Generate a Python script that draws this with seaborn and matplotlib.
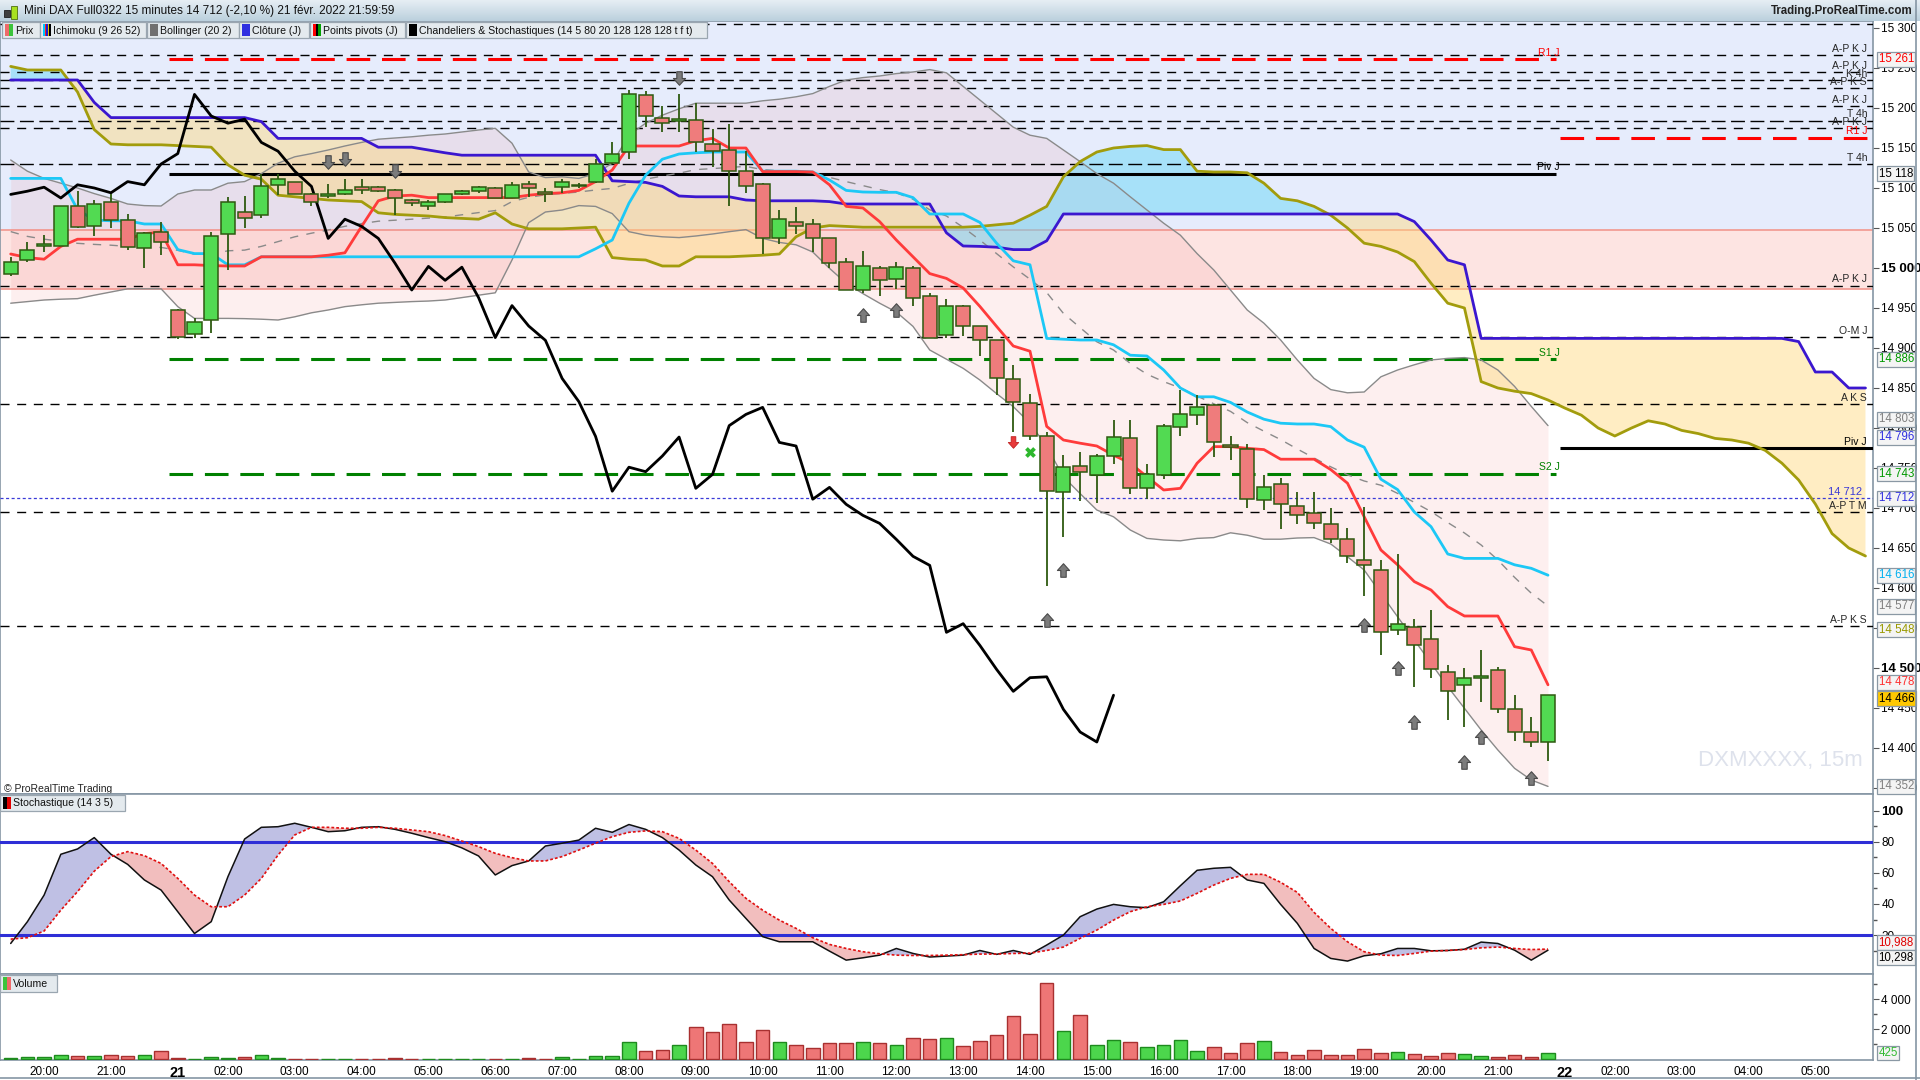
"""
Mini DAX 15 minutes chart (ProRealTime style) with Ichimoku, Bollinger,
pivots, stochastic and volume panels.
"""

import numpy as np
import pandas as pd
import matplotlib
matplotlib.use("Agg")
import matplotlib.pyplot as plt
import matplotlib.transforms as mtransforms
from matplotlib.path import Path
from matplotlib.patches import Rectangle
from matplotlib.lines import Line2D
from matplotlib.colors import LinearSegmentedColormap
import seaborn as sns

# ---------------------------------------------------------------- data
opens = [14992, 15010, 15027, 15028, 15077, 15053, 15082, 15060, 15025, 15045,
         14948, 14918, 14935, 15042, 15070, 15066, 15104, 15107, 15093, 15090,
         15092, 15101, 15101, 15098, 15085, 15077, 15083, 15093, 15096, 15100,
         15088, 15105, 15095, 15101, 15102, 15107, 15131, 15145, 15216, 15188,
         15184, 15185, 15155, 15148, 15121, 15105, 15037, 15057, 15055, 15037,
         15007, 14972.5, 14999.6, 14986, 14999.6, 14964.6, 14915.8, 14953, 14927, 14909.6,
         14861, 14831, 14789.6, 14719.6, 14752, 14740.8, 14764.6, 14787, 14725.4, 14741,
         14800.8, 14816.7, 14828.7, 14778.3, 14773.7, 14710, 14729.6, 14702, 14694, 14679.6,
         14661.7, 14634.6, 14622, 14547, 14551.7, 14535.8, 14494.6, 14478.7, 14488.5, 14497,
         14449, 14419.6, 14408]
highs = [15014, 15032, 15041, 15078, 15096, 15085, 15092, 15067, 15045, 15058,
         14949, 14938, 15045, 15089, 15090, 15117, 15117, 15108, 15094, 15105,
         15111, 15111, 15102, 15099, 15086, 15085, 15093, 15098, 15102, 15101,
         15107, 15109, 15100, 15111, 15106, 15136, 15157, 15223, 15221, 15203,
         15217, 15206, 15174, 15180, 15146, 15106, 15072, 15076, 15061, 15038,
         15013, 15021, 15002.5, 15007.5, 15002.5, 14969, 14961, 14954, 14928, 14910,
         14879, 14842.5, 14794.6, 14766, 14769.6, 14767.5, 14810, 14810, 14755, 14805,
         14848, 14841, 14829.6, 14790, 14780, 14741, 14737, 14719.6, 14719.6, 14699.6,
         14675.4, 14701, 14634.6, 14642.5, 14561, 14572.5, 14503.7, 14500, 14522.5, 14501,
         14466, 14439, 14466]
lows = [14990, 15008, 15020, 15027, 15050, 15040, 15050, 15022, 15000, 15016,
        14911, 14913, 14919, 14998, 15050, 15063, 15091, 15092, 15077, 15088,
        15091, 15093, 15095, 15066, 15077, 15072, 15081, 15091, 15094, 15087,
        15088, 15089, 15082, 15094, 15100, 15106, 15130, 15136, 15176, 15170,
        15170, 15145, 15126, 15077, 15094, 15017, 15030, 15043, 15020, 15000,
        14972, 14969, 14965, 14974, 14953, 14912, 14913, 14915, 14890, 14841,
        14795, 14785, 14602, 14664, 14709, 14705.8, 14755.4, 14717, 14710.8, 14735.8,
        14790.4, 14803.7, 14763.7, 14760, 14700.4, 14698, 14674, 14680.4, 14674, 14655.8,
        14631.7, 14590.4, 14516.7, 14541.2, 14475.8, 14488, 14435.4, 14426.7, 14458, 14444,
        14409, 14401.7, 14384]
closes = [15007, 15023, 15030, 15077, 15051, 15080, 15060, 15026, 15044, 15033,
          14914, 14933, 15040, 15082, 15062, 15102, 15111, 15093, 15083, 15092,
          15098, 15097, 15096, 15088, 15081, 15082, 15092, 15096, 15101, 15087.5,
          15104, 15100, 15094, 15108, 15104, 15130, 15143, 15217, 15190, 15181,
          15186, 15157, 15146, 15121, 15102, 15037, 15061, 15052, 15037, 15006,
          14972.5, 15002, 14984.6, 15001, 14963, 14913, 14953, 14927.5, 14909.6, 14862,
          14833, 14789.6, 14721, 14751, 14745.4, 14765, 14788.7, 14724.6, 14742, 14803,
          14817, 14825.8, 14782, 14777.5, 14711, 14725.8, 14704.6, 14690.8, 14680.8, 14660.8,
          14639.6, 14628.3, 14544.6, 14555.4, 14528.3, 14498.3, 14470.8, 14487.9, 14489, 14448.3,
          14420, 14407.5, 14466]
volumes = [90, 157, 157, 292, 225, 225, 292, 225, 292, 562,
           90, 0, 157, 90, 157, 292, 90, 22, 22, 22,
           22, 22, 0, 90, 22, 22, 22, 0, 0, 22,
           22, 90, 22, 157, 0, 225, 225, 1168, 562, 629,
           966, 2180, 1843, 2382, 1168, 1977, 1168, 966, 764, 1101,
           1101, 1168, 1101, 966, 1438, 1371, 1438, 899, 1236, 1640,
           2921, 1708, 5078, 1910, 2989, 966, 1303, 1168, 831, 966,
           1303, 562, 831, 427, 1101, 1236, 494, 292, 629, 292,
           292, 697, 427, 494, 360, 225, 427, 360, 225, 157,
           292, 157, 425]

tenkan = [15017.5, 15013, 15011, 15027, 15036, 15036, 15036, 15036, 15043, 15045,
          15004, 15004, 15003, 15002.5, 15002.5, 15014, 15014, 15014, 15014, 15016,
          15019, 15052, 15084, 15090, 15091, 15088, 15088, 15088, 15088, 15088,
          15088, 15091, 15093, 15094, 15097, 15108, 15122.5, 15152.5, 15152.5, 15152.5,
          15152.5, 15159, 15162, 15150, 15150, 15120.5, 15120.5, 15120.5, 15120, 15104,
          15077, 15075, 15058, 15035, 15014, 14993, 14987, 14975, 14952, 14927,
          14902.5, 14896, 14802, 14785, 14781, 14777.5, 14766, 14756, 14739, 14722.5,
          14724.6, 14756, 14776.7, 14776.7, 14774.6, 14773, 14761, 14761, 14761, 14748,
          14731, 14689, 14647.5, 14629, 14608, 14597.5, 14576.7, 14565, 14565, 14565,
          14526.7, 14522.5, 14479]
kijun = [15112, 15112, 15112, 15112, 15073, 15060, 15059, 15059, 15055, 15055,
         15023, 15018, 15018, 15004, 15004, 15014, 15014, 15014, 15014, 15014,
         15014, 15014, 15014, 15014, 15014, 15014, 15014, 15014, 15014, 15014,
         15014, 15014, 15014, 15014, 15014, 15024, 15035, 15081, 15116, 15136,
         15142.5, 15144, 15145, 15145, 15145, 15121, 15121, 15121, 15120, 15110,
         15097, 15095, 15094.6, 15094.6, 15088, 15067.5, 15067.5, 15067.5, 15057, 15031,
         15009, 15004, 14912, 14911, 14910, 14910, 14904, 14891, 14890, 14872.5,
         14850, 14839, 14839, 14832, 14820, 14811, 14806, 14805, 14805, 14801.7,
         14785, 14776, 14736, 14723, 14695, 14676.7, 14642.5, 14637, 14637, 14637,
         14629, 14624.6, 14616]
senkou_a = [15252, 15247.5, 15247.5, 15247.5, 15220, 15173, 15155, 15154, 15154, 15154,
            15153, 15152, 15151, 15129, 15116, 15111, 15091, 15089, 15087, 15085,
            15084, 15083, 15069, 15067, 15066, 15065, 15063, 15062, 15061, 15069,
            15055, 15049, 15049, 15049, 15050, 15051, 15013, 15011, 15010, 15002.5,
            15002.5, 15014, 15014, 15014, 15015, 15016, 15017.5, 15039, 15050, 15053,
            15052, 15051, 15051, 15051, 15051, 15051, 15051, 15051, 15052, 15054,
            15056, 15066, 15077, 15114, 15133, 15145, 15150, 15152, 15153, 15148,
            15148, 15121, 15120, 15120, 15119, 15106, 15087, 15084, 15077, 15066,
            15050, 15031, 15027, 15020, 15008, 14981, 14956, 14950, 14858, 14850,
            14846, 14843, 14835, 14825, 14816, 14800, 14790, 14800, 14809, 14805,
            14797, 14793, 14787, 14785, 14781, 14772, 14756, 14735, 14705, 14668,
            14650, 14640]
senkou_b = [15235, 15235, 15235, 15235, 15235, 15207, 15188, 15188, 15188, 15188,
            15188, 15188, 15188, 15188, 15188, 15183, 15162, 15162, 15162, 15162,
            15162, 15162, 15151, 15151, 15151, 15147.5, 15144, 15141, 15141, 15141,
            15141, 15141, 15141, 15141, 15141, 15141, 15109, 15108, 15107, 15102,
            15090, 15089, 15089, 15089, 15085, 15084, 15084, 15084, 15084, 15083,
            15080, 15080, 15080, 15080, 15080, 15080, 15044, 15027.5, 15027, 15026,
            15023, 15023, 15034, 15067.5, 15067.5, 15067.5, 15067.5, 15067.5, 15067.5, 15067.5,
            15067.5, 15067.5, 15067.5, 15067.5, 15067.5, 15067.5, 15067.5, 15067.5, 15067.5, 15067.5,
            15067.5, 15067.5, 15067.5, 15067.5, 15058, 15035, 15010, 15004, 14912, 14912,
            14912, 14912, 14912, 14912, 14912, 14912, 14912, 14912, 14912, 14912,
            14912, 14912, 14912, 14912, 14912, 14912, 14912, 14908, 14870, 14870,
            14850, 14850]
bb_upper = [15135, 15121, 15112, 15106, 15100, 15093, 15087, 15080, 15078, 15077.5,
            15092.5, 15097.5, 15097.5, 15106, 15108, 15118, 15131, 15139, 15143, 15147.5,
            15152.5, 15157, 15161, 15162.5, 15164, 15166, 15167.5, 15170, 15172.5, 15174.6,
            15156, 15120, 15113, 15114, 15112, 15118, 15131, 15166, 15181, 15191,
            15199, 15206, 15206, 15206, 15206, 15209, 15211, 15214, 15218, 15227,
            15235, 15238, 15240, 15243, 15245, 15248, 15244, 15227, 15210, 15193,
            15176, 15166, 15162, 15147.5, 15133, 15118, 15106, 15089, 15072.5, 15056,
            15041, 15018, 14997.5, 14972.5, 14947.5, 14931, 14910, 14885, 14862, 14848,
            14844, 14845, 14864, 14872.5, 14879, 14885, 14887, 14888, 14885, 14872.5,
            14852, 14827, 14803]
bb_lower = [14956, 14958, 14960, 14961, 14961.7, 14966, 14970, 14974, 14974, 14974,
            14951.7, 14937, 14937, 14937, 14936.7, 14936, 14935, 14939, 14944, 14947.5,
            14951.7, 14954, 14956, 14957, 14958, 14958.7, 14960, 14963, 14966, 14969,
            15010, 15056.7, 15070, 15072.5, 15078, 15077, 15068, 15045.4, 15041, 15039,
            15038, 15040, 15042.5, 15045.4, 15048, 15037, 15032, 15029, 15020, 14999.6,
            14981, 14968, 14956, 14945, 14927, 14897.5, 14886, 14874.6, 14860, 14843,
            14826.7, 14806, 14776.7, 14739, 14718, 14697.5, 14689, 14672.5, 14662, 14660,
            14659, 14662, 14663, 14669, 14666, 14661, 14661, 14662.5, 14663, 14655,
            14639, 14622.5, 14593, 14564, 14535, 14506, 14476.7, 14449.6, 14422.5, 14397.5,
            14374.6, 14360, 14352]

stoch_k = [14.6, 28.6, 45.7, 71.9, 75.3, 82.6, 71.9, 65.4, 55.4, 48.9,
           35, 21, 28.6, 57.5, 81.7, 89.2, 89.6, 91.8, 89.2, 86.4,
           87, 89.2, 89.6, 87.9, 85.4, 82.6, 80, 76, 70.8, 58.6,
           64.6, 67.6, 77.2, 79, 81, 88.6, 86, 91, 87.9, 82.6,
           74.6, 65, 57.5, 42.5, 30.7, 19, 15.7, 15.7, 15.7, 9.7,
           3.9, 5.4, 7.1, 11.4, 8.2, 5.9, 6.5, 7.1, 10.1, 7.6,
           10.1, 7.6, 13.6, 20, 31.8, 36.7, 39.7, 38.2, 37.6, 41.4,
           51.7, 61.6, 62.9, 63.5, 55.4, 53.2, 39.7, 27.5, 11.4, 5,
           3.3, 6.7, 8, 11.4, 11.4, 9.9, 10.1, 10.9, 15.5, 14.6,
           10.3, 3.9, 10.298]
stoch_d = [17.4, 18.3, 22.6, 36, 47.9, 61, 70.4, 73.6, 71, 66,
           56.4, 45.7, 38.2, 38.2, 45.7, 56.4, 71.4, 84.3, 89.2, 89.2,
           88.6, 88.6, 89.2, 88.6, 87.5, 86.4, 83.9, 80.4, 76.8, 72.5,
           69.7, 67.6, 67.6, 70.4, 74.6, 79, 83.2, 86, 86.9, 86.4,
           82.1, 74.6, 66, 54.3, 43.6, 36, 29.6, 24.3, 18.3, 14,
           11.4, 9.3, 8, 7.1, 6.9, 6.9, 7.1, 7.4, 7.8, 7.8,
           8.2, 8.4, 10.1, 12.3, 17.9, 23.2, 29.6, 35, 38.2, 39.7,
           41.9, 46.8, 52.1, 56.4, 59, 59, 53.9, 47.4, 34.6, 24.3,
           15.7, 9.3, 7.1, 6.9, 8.2, 9.7, 10.1, 10.7, 11.8, 12.3,
           11.4, 10.7, 10.988]

# horizontal levels drawn across the whole chart
level_prices = [15304.6, 15266, 15245, 15235, 15224.6, 15202.5, 15184, 15175,
                15129.6, 14978, 14913.5, 14830, 14694.6, 14552.5]
level_labels = ["", "A-P K J", "A-P K J", "K 4h", "A-P K S", "A-P K J", "T 4h",
                "A-P K J", "T 4h", "A-P K J", "O-M J", "A K S", "A-P T M", "A-P K S"]

# daily pivots: session of the 21st and the following one
pivot_today = {"R1 J": 15261, "Piv J": 15118, "S1 J": 14886, "S2 J": 14743}
pivot_next = {"R1 J": 15163, "Piv J": 14775}
prev_close = 14712
zone_blue_low = 15048
zone_pink = (14974, 15048)

# arrow signals (bar index, price of arrow centre)
arrows_down = [(19, 15133), (20, 15136), (23, 15121), (40, 15238)]
arrows_up = [(51, 14941), (53, 14947), (62, 14560), (63, 14622), (81, 14554),
             (83, 14500), (84, 14433), (87, 14383), (88, 14414), (91, 14362)]

axis_box_values = [15261, 15118, 14886, 14803, 14796, 14743, 14712, 14616,
                   14577, 14548, 14478, 14466, 14352]
axis_box_colors = ["#FF0000", "#000000", "#009900", "#808080", "#3030E0",
                   "#009900", "#3030E0", "#00B0F0", "#808080", "#9A9A00",
                   "#FF3030", "#000000", "#808080"]
axis_box_shift = [0, 0, 0, 4.5, -4.5, 0, 0, 0, 0, 0, 2.5, -2.5, 0]

price_ticks = [14350, 14400, 14450, 14500, 14550, 14600, 14650, 14700, 14750,
               14800, 14850, 14900, 14950, 15000, 15050, 15100, 15150, 15200,
               15250, 15300]
stoch_ticks = [20, 40, 60, 80, 100]
volume_ticks = [2000, 4000]

tick_bars = [2, 6, 10, 13, 17, 21, 25, 29, 33, 37, 41, 45, 49, 53, 57, 61, 65,
             69, 73, 77, 81, 85, 89, 93, 96, 100, 104, 108]
tick_labels = ["20:00", "21:00", "21", "02:00", "03:00", "04:00", "05:00",
               "06:00", "07:00", "08:00", "09:00", "10:00", "11:00", "12:00",
               "13:00", "14:00", "15:00", "16:00", "17:00", "18:00", "19:00",
               "20:00", "21:00", "22", "02:00", "03:00", "04:00", "05:00"]

df = pd.DataFrame({"open": opens, "high": highs, "low": lows, "close": closes,
                   "volume": volumes, "tenkan": tenkan, "kijun": kijun,
                   "bb_up": bb_upper, "bb_lo": bb_lower,
                   "k": stoch_k, "d": stoch_d})
df["bar"] = np.arange(len(df))
df["bb_mid"] = (df.bb_up + df.bb_lo) / 2
cloud = pd.DataFrame({"a": senkou_a, "b": senkou_b})
cloud["bar"] = np.arange(len(cloud))

# ---------------------------------------------------------------- style
sns.set_theme(style="white")
plt.rcParams['font.family'] = ['Liberation Sans', 'DejaVu Sans']
plt.rcParams['lines.scale_dashes'] = False

GREEN = "#52DA52"
RED = "#EF7C7C"
EDGE = "#2E5A10"
SPINE = "#8596A4"

W, H = 1920, 1080
fig = plt.figure(figsize=(19.2, 10.8), dpi=100, facecolor="white")


def fx(px):
    return px / W


def fy(py):
    return 1 - py / H


def thousands(v):
    v = int(round(v))
    return f"{v // 1000} {v % 1000:03d}" if v >= 1000 else str(v)


BOX = dict(boxstyle="square,pad=0.12", fc="#F4F4F4", ec="#8A98A4", lw=0.9)

RIGHT = 1873
ax = fig.add_axes([0, fy(794), fx(RIGHT), (794 - 21) / H])
ax_st = fig.add_axes([0, fy(974), fx(RIGHT), (974 - 794) / H])
ax_vol = fig.add_axes([0, fy(1060), fx(RIGHT), (1060 - 974) / H])

XLIM = (-0.64, 111.45)
for a in (ax, ax_st, ax_vol):
    a.set_xlim(*XLIM)
    a.set_facecolor("white")
    for s in a.spines.values():
        s.set_color(SPINE)
        s.set_linewidth(1.2)
    a.yaxis.tick_right()
    a.tick_params(axis="y", direction="out", length=4, width=0.8,
                  colors="#555555", labelcolor="black", labelsize=8.5, pad=2)
    a.grid(False)
ax.tick_params(axis="x", bottom=False, labelbottom=False)
ax_st.tick_params(axis="x", bottom=False, labelbottom=False)

# ---------------------------------------------------------------- price panel
ax.set_ylim(14342.5, 15308.75)
ax.axhspan(zone_blue_low, 15400, color="#E6ECFC", zorder=0, lw=0)
ax.axhspan(*zone_pink, color="#FDE4E2", zorder=0, lw=0)
for lv in zone_pink:
    ax.axhline(lv, color="#F29E96", lw=1.3, zorder=1)

bars = df.bar.values
ax.fill_between(bars, df.bb_lo, df.bb_up, color="#F08080", alpha=0.12,
                lw=0, zorder=1)
ax.fill_between(cloud.bar, cloud.a, cloud.b, where=cloud.a >= cloud.b,
                interpolate=True, color="#6AD8F7", alpha=0.5, lw=0, zorder=2)
ax.fill_between(cloud.bar, cloud.a, cloud.b, where=cloud.a < cloud.b,
                interpolate=True, color="#FFD97A", alpha=0.45, lw=0, zorder=2)

# levels
lab_tr = mtransforms.blended_transform_factory(ax.transAxes, ax.transData)
for price, label in zip(level_prices, level_labels):
    dash = (10, 4) if "4h" in label else (6.5, 5.5)
    ax.axhline(price, color="black", lw=1.0, dashes=dash, zorder=3)
    if label:
        ax.annotate(label, (0.9968, price), xycoords=lab_tr, xytext=(0, 1),
                    textcoords="offset points", ha="right", va="bottom",
                    fontsize=7.5, zorder=10)

piv_style = {"R1 J": ("#FF0000", (17, 8.5)), "Piv J": ("black", None),
             "S1 J": ("#008000", (17, 8.5)), "S2 J": ("#008000", (17, 8.5))}
for name, price in pivot_today.items():
    col, dash = piv_style[name]
    ls = (0, dash) if dash else "solid"
    ax.hlines(price, 9.5, 92.5, color=col, lw=2.2, zorder=3, linestyles=[ls])
    ax.annotate(name, (92.7, price), xytext=(0, 1), textcoords="offset points",
                ha="right", va="bottom", fontsize=7.5, color=col, zorder=10)
for name, price in pivot_next.items():
    col, dash = piv_style[name]
    ls = (0, dash) if dash else "solid"
    ax.hlines(price, 92.7, XLIM[1], color=col, lw=2.2, zorder=3, linestyles=[ls])
    ax.annotate(name, (0.9968, price), xycoords=lab_tr, xytext=(0, 1),
                textcoords="offset points", ha="right", va="bottom",
                fontsize=7.5, color=col, zorder=10)
ax.axhline(prev_close, color="#3A3AD8", lw=0.9, dashes=(2.2, 1.8), zorder=3)
ax.annotate(thousands(prev_close), (0.9943, prev_close), xycoords=lab_tr,
            xytext=(0, 1), textcoords="offset points", ha="right", va="bottom",
            fontsize=8, color="#3A3AD8", zorder=10)

# indicator lines
sns.lineplot(x=df.bar, y=df.bb_up, ax=ax, color="#8A8A8A", lw=1.0, zorder=4)
sns.lineplot(x=df.bar, y=df.bb_lo, ax=ax, color="#8A8A8A", lw=1.0, zorder=4)
sns.lineplot(x=df.bar, y=df.bb_mid, ax=ax, color="#8A8A8A", lw=1.0, zorder=4)
ax.lines[-1].set_dashes((6, 6))
sns.lineplot(x=cloud.bar, y=cloud.a, ax=ax, color="#A29C0C", lw=2.0, zorder=4)
sns.lineplot(x=cloud.bar, y=cloud.b, ax=ax, color="#3B17CF", lw=2.0, zorder=4)
sns.lineplot(x=df.bar, y=df.kijun, ax=ax, color="#1CC8F6", lw=2.0, zorder=5)
sns.lineplot(x=df.bar, y=df.tenkan, ax=ax, color="#FF3B3B", lw=2.0, zorder=5)
sns.lineplot(x=df.bar.values[:-26], y=df.close.values[26:], ax=ax,
             color="black", lw=2.0, zorder=5)

# candles
o, h, l, c = df.open.values, df.high.values, df.low.values, df.close.values
up = c >= o
body = np.abs(c - o)
thin = body < 2
ax.vlines(bars, l, h, color=EDGE, lw=1.3, zorder=6)
ax.bar(bars, np.where(thin, 2.0, body), bottom=np.minimum(o, c) - np.where(thin, 1, 0),
       width=0.84, color=np.where(up, GREEN, RED), edgecolor=EDGE,
       linewidth=1.1, zorder=7)

# signal arrows
arrow_up = Path([(-0.2, -0.5), (0.2, -0.5), (0.2, 0.0), (0.45, 0.0), (0, 0.5),
                 (-0.45, 0.0), (-0.2, 0.0), (-0.2, -0.5)],
                [Path.MOVETO] + [Path.LINETO] * 6 + [Path.CLOSEPOLY])
arrow_down = Path(arrow_up.vertices * np.array([1, -1]), arrow_up.codes)
ax.scatter([b for b, _ in arrows_up], [p for _, p in arrows_up], marker=arrow_up,
           s=95, c="#7C7C7C", edgecolors="#4A4A4A", linewidths=0.8, zorder=9)
ax.scatter([b for b, _ in arrows_down], [p for _, p in arrows_down],
           marker=arrow_down, s=95, c="#7C7C7C", edgecolors="#4A4A4A",
           linewidths=0.8, zorder=9)
ax.scatter([60], [14783], marker=arrow_down, s=70, c="#E83A3A",
           edgecolors="#C02020", linewidths=0.6, zorder=9)
ax.scatter([61], [14770], marker="X", s=60, c="#2DB82D", linewidths=0, zorder=9)

# price ticks
ax.set_yticks(price_ticks)
ax.set_yticklabels([thousands(v) for v in price_ticks])
for t, v in zip(ax.get_yticklabels(), price_ticks):
    if v % 500 == 0:
        t.set_fontweight("bold")
        t.set_fontsize(9.5)

# boxed values on the price axis
box_tr = mtransforms.blended_transform_factory(ax.transAxes, ax.transData)
for v, col, dy in zip(axis_box_values, axis_box_colors, axis_box_shift):
    bb = dict(BOX, fc="#FFC800" if v == closes[-1] else "#F4F4F4")
    ax.annotate(thousands(v), (1.0, v), xycoords=box_tr, xytext=(4, dy),
                textcoords="offset points", ha="left", va="center",
                fontsize=8.3, color=col, annotation_clip=False, zorder=20,
                bbox=bb)

ax.text(0.9943, 0.03, "DXMXXXX, 15m", transform=ax.transAxes, ha="right",
        va="bottom", fontsize=16, color="#DEE2EC", zorder=1)
ax.text(0.002, 0.0, "\u00a9 ProRealTime Trading", transform=ax.transAxes,
        ha="left", va="bottom", fontsize=7.5, color="#222222", zorder=10)

# ---------------------------------------------------------------- stochastic
ax_st.set_ylim(-5, 110.6)
ax_st.axhline(80, color="#2E2ED6", lw=2.2, zorder=3)
ax_st.axhline(20, color="#2E2ED6", lw=2.2, zorder=3)
ax_st.fill_between(df.bar, df.k, df.d, where=df.k >= df.d, interpolate=True,
                   color="#BFC0E4", lw=0, zorder=1)
ax_st.fill_between(df.bar, df.k, df.d, where=df.k < df.d, interpolate=True,
                   color="#F2BEBE", lw=0, zorder=1)
sns.lineplot(x=df.bar, y=df.k, ax=ax_st, color="#111111", lw=1.1, zorder=4)
sns.lineplot(x=df.bar, y=df.d, ax=ax_st, color="#E01010", lw=1.2, zorder=4)
ax_st.lines[-1].set_dashes((2, 1.5))
ax_st.set_yticks(stoch_ticks)
ax_st.set_yticklabels([str(v) for v in stoch_ticks])
ax_st.set_yticks([10, 30, 50, 70, 90], minor=True)
ax_st.tick_params(axis="y", which="minor", direction="out", length=3,
                  colors="#555555")
ax_st.get_yticklabels()[-1].set_fontweight("bold")
ax_st.get_yticklabels()[-1].set_fontsize(9.5)
st_tr = mtransforms.blended_transform_factory(ax_st.transAxes, ax_st.transData)
for v, col, dy in [(stoch_d[-1], "#E00000", 5), (stoch_k[-1], "#000000", -5)]:
    ax_st.annotate(f"{v:.3f}".replace(".", ","), (1.0, v), xycoords=st_tr,
                   xytext=(4, dy), textcoords="offset points", ha="left",
                   va="center", fontsize=8.3, color=col, annotation_clip=False,
                   zorder=20, bbox=BOX)

# ---------------------------------------------------------------- volume
ax_vol.set_ylim(-40, 5700)
ax_vol.bar(df.bar, df.volume, width=0.81,
           color=np.where(up, "#4CD64C", "#EE7676"),
           edgecolor=np.where(up, "#1E8A1E", "#A83030"), linewidth=1.0,
           zorder=3)
ax_vol.set_yticks(volume_ticks)
ax_vol.set_yticklabels([thousands(v) for v in volume_ticks])
ax_vol.set_yticks([1000, 3000, 5000], minor=True)
ax_vol.tick_params(axis="y", which="minor", direction="out", length=3,
                   colors="#555555")
vol_tr = mtransforms.blended_transform_factory(ax_vol.transAxes, ax_vol.transData)
ax_vol.annotate(str(volumes[-1]), (1.0, volumes[-1]), xycoords=vol_tr,
                xytext=(4, 0), textcoords="offset points", ha="left",
                va="center", fontsize=8.3, color="#33BB33",
                annotation_clip=False, zorder=20, bbox=BOX)
ax_vol.set_xticks(tick_bars)
ax_vol.set_xticklabels(tick_labels)
ax_vol.tick_params(axis="x", direction="out", length=3, width=0.8,
                   colors="#555555", labelcolor="black", labelsize=8.5, pad=1)
for t, lab in zip(ax_vol.get_xticklabels(), tick_labels):
    if len(lab) == 2:
        t.set_fontweight("bold")
        t.set_fontsize(10.5)
for a in (ax, ax_st, ax_vol):
    a.set_xlabel("")
    a.set_ylabel("")

# ---------------------------------------------------------------- header / legends
ax_t = fig.add_axes([0, fy(21), 1, 21 / H])
ax_t.axis("off")
grad = np.linspace(0, 1, 32).reshape(-1, 1)
ax_t.imshow(grad, aspect="auto", extent=[0, 1, 0, 1],
            cmap=LinearSegmentedColormap.from_list("hdr", ["#E6EEF4", "#BBD0DD"]))
fig.text(fx(24), fy(11), "Mini DAX Full0322 15 minutes 14 712 (-2,10 %) 21 févr. 2022 21:59:59",
         ha="left", va="center", fontsize=8.5, color="#111111")
fig.text(fx(1913), fy(11), "Trading.ProRealTime.com", ha="right", va="center",
         fontsize=8.3, fontweight="bold", color="#222222")
fig.add_artist(Rectangle((fx(4), fy(17)), fx(6), 7 / H, fc="#404040", ec="#202020",
                         lw=0.6, transform=fig.transFigure))
fig.add_artist(Rectangle((fx(11), fy(19)), fx(6), 13 / H, fc="#A8E020", ec="#507010",
                         lw=0.6, transform=fig.transFigure))


def legend_box(x0, x1, y0, y1, text, icon_colors):
    fig.add_artist(Rectangle((fx(x0), fy(y1)), fx(x1 - x0), (y1 - y0) / H,
                             fc="#E4EAEE", ec="#9AA6B0", lw=0.9,
                             transform=fig.transFigure, zorder=30))
    n = len(icon_colors)
    w = 8 / n
    for i, col in enumerate(icon_colors):
        fig.add_artist(Rectangle((fx(x0 + 3 + i * w), fy(y1 - 2)), fx(w),
                                 (y1 - y0 - 4) / H, fc=col, lw=0,
                                 transform=fig.transFigure, zorder=31))
    fig.text(fx(x0 + 13), fy((y0 + y1) / 2 + 0.5), text, ha="left",
             va="center", fontsize=7.6, color="#111111", zorder=32)


legend_box(2, 40, 22, 38, "Prix", ["#EE6A6A", "#3CC43C"])
legend_box(40, 146, 22, 38, "Ichimoku (9 26 52)",
           ["#00C8FF", "#FF2020", "#2020D0", "#D8C000", "#000000"])
legend_box(147, 239, 22, 38, "Bollinger (20 2)", ["#707070"])
legend_box(239, 309, 22, 38, "Clôture (J)", ["#2F2FE0"])
legend_box(310, 405, 22, 38, "Points pivots (J)", ["#FF0000", "#000000", "#00A000"])
legend_box(406, 707, 22, 38,
           "Chandeliers & Stochastiques (14 5 80 20 128 128 128 t f t)", ["#000000"])
legend_box(0, 125, 795, 811, "Stochastique (14 3 5)", ["#000000", "#E00000"])
legend_box(0, 57, 975, 992, "Volume", ["#3CC43C", "#EE6A6A"])

fig.add_artist(Line2D([fx(1916), fx(1916)], [0, 1], color=SPINE, lw=1.2,
                      transform=fig.transFigure))
fig.add_artist(Line2D([0, 1], [fy(1078), fy(1078)], color=SPINE, lw=1.2,
                      transform=fig.transFigure))

fig.savefig("out.png", dpi=100, facecolor="white")
